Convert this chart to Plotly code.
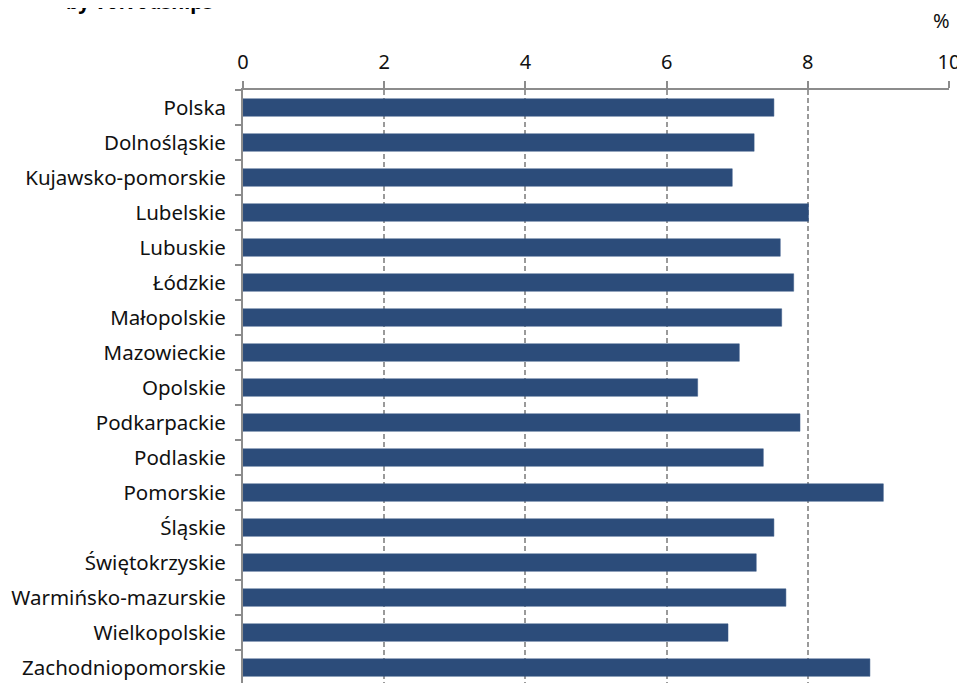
import plotly.graph_objects as go

categories = ["Polska", "Dolnośląskie", "Kujawsko-pomorskie", "Lubelskie", "Lubuskie",
              "Łódzkie", "Małopolskie", "Mazowieckie", "Opolskie", "Podkarpackie",
              "Podlaskie", "Pomorskie", "Śląskie", "Świętokrzyskie",
              "Warmińsko-mazurskie", "Wielkopolskie", "Zachodniopomorskie"]
values = [7.52, 7.24, 6.93, 8.01, 7.61, 7.80, 7.63, 7.03, 6.44, 7.89,
          7.37, 9.07, 7.52, 7.27, 7.69, 6.87, 8.88]
x_ticks = [0, 2, 4, 6, 8, 10]

FONT = "Noto Sans"
GREY = "#8c8c8c"

fig = go.Figure(go.Bar(
    x=values, y=categories, orientation="h", width=0.5,
    marker=dict(color="#2c4c7a", line=dict(color="#3a5a88", width=0.5)),
))

fig.update_layout(
    width=957, height=675,
    margin=dict(l=235, r=16, t=82, b=0),
    paper_bgcolor="white", plot_bgcolor="white",
    font=dict(family=FONT, size=20, color="#111111"),
    showlegend=False,
    xaxis=dict(
        side="top", range=[0, 10], tickvals=x_ticks,
        showline=True, linecolor=GREY, linewidth=2, mirror=False,
        ticks="outside", ticklen=7, tickcolor=GREY, tickwidth=2,
        showgrid=True, gridcolor="#9a9a9a", griddash="5px,3px", gridwidth=2,
        zeroline=False, ticklabelstandoff=4, ticklabeloverflow="allow",
        automargin=False,
        tickfont=dict(size=20, family=FONT),
    ),
    yaxis=dict(
        type="category", categoryorder="array", categoryarray=categories,
        range=[16.44, -0.5],
        showline=True, linecolor=GREY, linewidth=2,
        ticks="outside", tickson="boundaries", ticklen=6, tickcolor=GREY, tickwidth=2,
        showgrid=False, ticklabelstandoff=11, automargin=False,
        tickfont=dict(size=20.5, family=FONT),
    ),
    annotations=[
        dict(text="%", xref="paper", yref="paper", x=1.0, y=1.0, xshift=-8,
             yshift=70, showarrow=False, xanchor="center", yanchor="middle",
             font=dict(size=20, family=FONT)),
        dict(text="<b>by voivodships</b>", xref="paper", yref="paper", x=0,
             xshift=-179, y=1.0, yshift=73, showarrow=False, xanchor="left",
             yanchor="bottom", font=dict(size=20, family=FONT, color="#000000")),
    ],
)

fig.write_html("out.html")
